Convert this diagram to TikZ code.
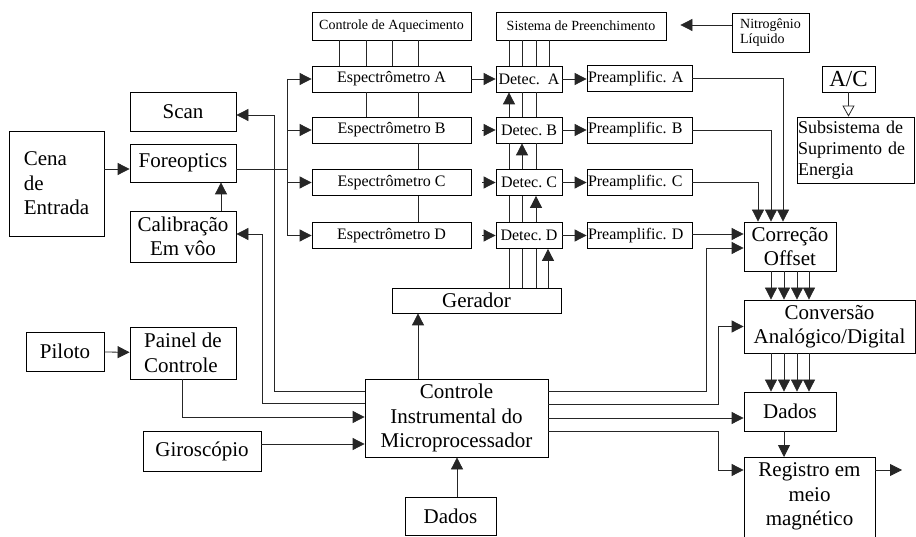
\documentclass[tikz,border=0pt]{standalone}
\usepackage{fontspec}
\setmainfont{Liberation Serif}
\usetikzlibrary{arrows.meta,calc}
\frenchspacing
\begin{document}
\begin{tikzpicture}[x=1pt,y=-1pt,
  box/.style={draw=black, line width=0.8pt, inner sep=1pt, align=center, fill=white},
  big/.style={font=\fontsize{21}{24.5}\selectfont},
  mid/.style={font=\fontsize{16}{19}\selectfont},
  sml/.style={font=\fontsize{14}{15.5}\selectfont},
  ln/.style={draw=black!85, line width=0.8pt},
  arr/.style={ln, -{Triangle[length=12pt,width=12pt]}},
  oarr/.style={ln, -{Triangle[open,length=11pt,width=12pt,fill=white]}}
]
\clip (0,0) rectangle (916,537);
\fill[white] (0,0) rectangle (916,537);

% top row
\node[box,sml,minimum width=159pt,minimum height=28pt] (aq) at (391.5,26) {Controle de Aquecimento};
\node[box,sml,minimum width=170pt,minimum height=28pt] (sis) at (581,26) {Sistema de Preenchimento};
\node[box,sml,minimum width=77pt,minimum height=39pt,align=left] (nit) at (770.5,32.5) {Nitrogênio\\Líquido};

% spectrometers
\node[box,mid,minimum width=159pt,minimum height=26pt] (espA) at (391.5,79) {Espectrômetro A};
\node[box,mid,minimum width=159pt,minimum height=26pt] (espB) at (391.5,130) {Espectrômetro B};
\node[box,mid,minimum width=159pt,minimum height=26pt] (espC) at (391.5,182.5) {Espectrômetro C};
\node[box,mid,minimum width=159pt,minimum height=26pt] (espD) at (391.5,235.5) {Espectrômetro D};

% detectors
\node[box,mid,minimum width=66pt,minimum height=26pt] (detA) at (529,79) {Detec.~ A};
\node[box,mid,minimum width=66pt,minimum height=26pt] (detB) at (529,130) {Detec. B};
\node[box,mid,minimum width=66pt,minimum height=26pt] (detC) at (529,182.5) {Detec. C};
\node[box,mid,minimum width=66pt,minimum height=26pt] (detD) at (529,235.5) {Detec. D};

% preamplifiers
\node[box,mid,text width=103pt,align=left,minimum height=26pt] (preA) at (639.5,78.5) {Preamplific. A};
\node[box,mid,text width=103pt,align=left,minimum height=26pt] (preB) at (639.5,130) {Preamplific. B};
\node[box,mid,text width=103pt,align=left,minimum height=26pt] (preC) at (639.5,182.5) {Preamplific. C};
\node[box,mid,text width=103pt,align=left,minimum height=26pt] (preD) at (639.5,235.5) {Preamplific. D};

% power
\node[box,font=\fontsize{23}{26}\selectfont,minimum width=53pt,minimum height=26pt] (ac) at (848.5,79) {A/C};
\node[box,font=\fontsize{18}{21}\selectfont,text width=115pt,align=left,minimum height=66pt] (sub) at (855.5,150) {Subsistema de\\Suprimento de\\Energia};

% left
\node[box,big,minimum width=95pt,minimum height=105pt,align=left] (cena) at (56.5,183.5) {Cena\\de\\Entrada};
\node[box,big,minimum width=106pt,minimum height=39pt] (scan) at (183,111.5) {Scan};
\node[box,big,minimum width=106pt,minimum height=38pt] (fore) at (183,163) {Foreoptics};
\node[box,big,minimum width=106pt,minimum height=51pt] (cal) at (183,236.5) {Calibração\\Em vôo};
\node[box,big,minimum width=78pt,minimum height=39pt] (pil) at (65,351.5) {Piloto};
\node[box,big,minimum width=106pt,minimum height=52pt,align=left] (pai) at (183,353) {Painel de\\Controle};
\node[box,big,minimum width=118pt,minimum height=40pt] (gir) at (202,451) {Giroscópio};

% center
\node[box,big,minimum width=169pt,minimum height=25pt] (ger) at (476.5,300.5) {Gerador};
\node[box,big,minimum width=183pt,minimum height=78pt] (ctl) at (456.5,418) {Controle\\Instrumental do\\Microprocessador};
\node[box,big,minimum width=91pt,minimum height=38pt] (dad2) at (450.5,516) {Dados};

% right
\node[box,big,minimum width=92pt,minimum height=49pt] (cor) at (790,246.5) {Correção\\Offset};
\node[box,big,minimum width=171pt,minimum height=53pt] (conv) at (829.5,326.5) {Conversão\\Analógico/Digital};
\node[box,big,minimum width=92pt,minimum height=39pt] (dad) at (790,411.5) {Dados};
\node[box,minimum width=131pt,minimum height=103pt,anchor=north] (reg) at (809.5,457) {};
\node[big,align=center,inner sep=0pt] (regt) at (809.5,496.5) {Registro em\\meio\\magnético};
\coordinate (regout) at (902,470);

% heating lines
\foreach \x in {339,366,392,418} \draw[ln] (aq.south -| \x,0) -- (espA.north -| \x,0);
\foreach \x in {366,418} \draw[ln] (espA.south -| \x,0) -- (espB.north -| \x,0);
\draw[ln] (espB.south -| 418,0) -- (espC.north -| 418,0);
\draw[ln] (espC.south -| 418,0) -- (espD.north -| 418,0);

% filling lines
\foreach \x in {509,522,536,549} \draw[ln] (sis.south -| \x,0) -- (detA.north -| \x,0);
\draw[arr] (detB.north -| 509,0) -- (detA.south -| 509,0);
\foreach \x in {522,536} \draw[ln] (detB.north -| \x,0) -- (detA.south -| \x,0);
\draw[arr] (detC.north -| 522,0) -- (detB.south -| 522,0);
\foreach \x in {509,536} \draw[ln] (detC.north -| \x,0) -- (detB.south -| \x,0);
\draw[arr] (detD.north -| 536,0) -- (detC.south -| 536,0);
\foreach \x in {509,522} \draw[ln] (detD.north -| \x,0) -- (detC.south -| \x,0);
\draw[arr] (ger.north -| 548,0) -- (detD.south -| 548,0);
\foreach \x in {509,522,536} \draw[ln] (ger.north -| \x,0) -- (detD.south -| \x,0);

% nitrogen
\draw[arr,shorten >=14pt] (nit.west |- 0,25) -- (sis.east |- 0,25);

% foreoptics bus
\coordinate (busT) at (287,79);
\coordinate (busB) at (287,235.5);
\draw[ln] ([yshift=-6pt]fore.east) -- (288,169);
\draw[ln] (busT) -- (busB);
\draw[arr] (busT) -- (espA.west);
\draw[arr] (287,130) -- (espB.west);
\draw[arr] (287,182.5) -- (espC.west);
\draw[arr] (busB) -- (espD.west);

% esp -> det
\draw[arr] (espA) -- (detA);
\draw[arr,shorten <=11pt] (espB.east) -- (detB.west);
\draw[arr,shorten <=11pt] (espC.east) -- (detC.west);
\draw[arr,shorten <=11pt] (espD.east) -- (detD.west);

% det -> pre
\draw[arr] (detA.east) -- (preA.west |- detA);
\draw[arr] (detB) -- (preB);
\draw[arr] (detC) -- (preC);
\draw[arr] (detD) -- (preD);

% pre -> correction
\draw[arr] (preA.east) -| (cor.north -| 783,0);
\draw[arr] (preB.east) -| (cor.north -| 771,0);
\draw[arr] (preC.east) -| (cor.north -| 758,0);
\draw[arr] (preD.east |- 0,234) -- (cor.west |- 0,234);

% cor -> conv -> dados
\foreach \x in {771,784,797,809} {
  \draw[arr] (cor.south -| \x,0) -- (conv.north -| \x,0);
  \draw[arr] (conv.south -| \x,0) -- (dad.north -| \x,0);
}
\draw[arr] (dad.south -| 784,0) -- (reg.north -| 784,0);
\draw[arr] (reg.east |- regout) -- (regout);

% A/C
\draw[oarr] (ac.south) -- (sub.north -| ac.south);

% left arrows
\draw[arr] ([yshift=-6pt]cena.east |- fore) -- ([yshift=-6pt]fore.west);
\draw[arr] (cal.north -| 221,0) -- (fore.south -| 221,0);
\draw[arr] (pil) -- (pai);

% controller connections left
\draw[arr] (ctl.west |- 0,391) -- (274,391) -- (274,115) -- (scan.east |- 0,115);
\draw[arr] (ctl.west |- 0,403) -- (262,403) -- (262,234) -- (cal.east |- 0,234);
\draw[arr] (pai.south -| 182,0) -- (182,417) -- (ctl.west |- 0,417);
\draw[arr] (gir.east |- 0,444) -- (ctl.west |- 0,444);

% controller up/down
\draw[arr] (ctl.north -| 418,0) -- (ger.south -| 418,0);
\draw[arr] (dad2.north -| 457,0) -- (ctl.south -| 457,0);

% controller right
\draw[arr] (ctl.east |- 0,391) -- (706,391) -- (706,248) -- (cor.west |- 0,248);
\draw[arr] (ctl.east |- 0,404) -- (718,404) -- (718,326.5) -- (conv.west |- 0,326.5);
\draw[arr] (ctl.east |- 0,418) -- (dad.west |- 0,418);
\draw[arr] (ctl.east |- 0,431) -- (718,431) -- (718,470) -- (reg.west |- 0,470);
\end{tikzpicture}
\end{document}
